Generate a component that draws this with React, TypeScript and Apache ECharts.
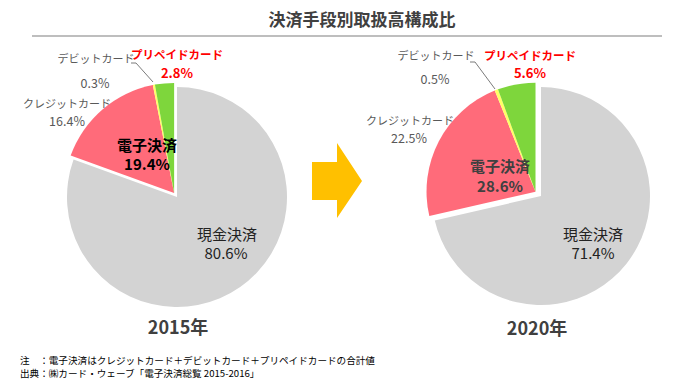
import React, { useEffect, useRef } from "react";
import * as echarts from "echarts";

const title = "決済手段別取扱高構成比";
const categories = ["現金決済", "クレジットカード", "デビットカード", "プリペイドカード"];
const years = ["2015年", "2020年"];
const values2015 = [80.6, 16.4, 0.3, 2.8];
const values2020 = [71.4, 22.5, 0.5, 5.6];
const electronicLabel = "電子決済";
const electronicTotals = [19.4, 28.6];
const notes = [
  "注　：電子決済はクレジットカード＋デビットカード＋プリペイドカードの合計値",
  "出典：㈱カード・ウェーブ「電子決済総覧 2015-2016」",
];

const COLORS = ["#D3D3D3", "#FF6B7A", "#FFFF66", "#7ED63C"];
const FONT = '"Noto Sans CJK JP", "Noto Sans", sans-serif';
const CLEAR = "rgba(0,0,0,0)";

function pct(v: number) {
  return v.toFixed(1) + "%";
}

function pieSeries(values: number[], center: number[], r: number, offset: number) {
  const total = values.reduce((a, b) => a + b, 0);
  const elec = values.slice(1).reduce((a, b) => a + b, 0);
  const mid = (elec / total) * Math.PI; // half of electronic angle, counterclockwise from top
  const dx = -offset * Math.sin(mid);
  const dy = -offset * Math.cos(mid);
  const base = {
    type: "pie" as const,
    radius: r,
    startAngle: 90,
    clockwise: true,
    silent: true,
    z: 1,
    avoidLabelOverlap: false,
    label: { show: false },
    labelLine: { show: false },
    emphasis: { disabled: true },
  };
  return [
    {
      ...base,
      center,
      data: values.map((v, i) => ({
        name: categories[i],
        value: v,
        itemStyle: { color: i === 0 ? COLORS[0] : CLEAR },
      })),
    },
    {
      ...base,
      center: [center[0] + dx, center[1] + dy],
      data: values.map((v, i) => ({
        name: categories[i],
        value: v,
        itemStyle: { color: i === 0 ? CLEAR : COLORS[i] },
      })),
    },
  ];
}

function txt(
  text: string,
  x: number,
  y: number,
  size: number,
  fill: string,
  bold = false,
  align = "center"
) {
  return {
    type: "text",
    x,
    y,
    z: 100,
    silent: true,
    style: {
      text,
      fill,
      font: `${bold ? "bold " : ""}${size}px ${FONT}`,
      textAlign: align,
      textVerticalAlign: "middle",
      align,
      verticalAlign: "middle",
    },
  };
}

export default function App() {
  const ref = useRef<HTMLDivElement>(null);
  useEffect(() => {
    if (!ref.current) return;
    const chart = echarts.init(ref.current, undefined, { renderer: "svg" });
    const graphic: any[] = [
      txt(title, 362, 18, 17, "#404040", true),
      {
        type: "line",
        z: 100,
        silent: true,
        shape: { x1: 32, y1: 36, x2: 662, y2: 36 },
        style: { stroke: "#7F7F7F", lineWidth: 1.2 },
      },
      // arrow
      {
        type: "polygon",
        z: 100,
        silent: true,
        shape: {
          points: [
            [312, 162], [337, 162], [337, 143], [362, 181], [337, 218], [337, 200], [312, 200],
          ],
        },
        style: { fill: "#FFC000" },
      },
      // 2015 labels
      txt(categories[2], 96, 58, 11, "#595959"),
      txt(pct(values2015[2]), 95, 82, 12.5, "#595959"),
      txt(categories[3], 177, 54, 11.5, "#FF0000", true),
      txt(pct(values2015[3]), 177, 72, 13, "#FF0000", true),
      txt(categories[1], 67, 103, 11, "#595959"),
      txt(pct(values2015[1]), 67, 120, 12.5, "#595959"),
      txt(electronicLabel, 147, 144.5, 15, "#000000", true),
      txt(pct(electronicTotals[0]), 147, 163.5, 15, "#000000", true),
      txt(categories[0], 227, 233, 15, "#222222"),
      txt(pct(values2015[0]), 226, 252, 15, "#222222"),
      {
        type: "polyline",
        z: 100,
        silent: true,
        shape: { points: [[131, 63], [136, 63], [153, 82]] },
        style: { stroke: "#595959", lineWidth: 0.8, fill: null },
      },
      // 2020 labels
      txt(categories[2], 436, 55, 11, "#595959"),
      txt(pct(values2020[2]), 435, 78, 12.5, "#595959"),
      txt(categories[3], 530, 55, 11.5, "#FF0000", true),
      txt(pct(values2020[3]), 530, 72, 13, "#FF0000", true),
      txt(categories[1], 410, 120, 11, "#595959"),
      txt(pct(values2020[1]), 409, 137, 12.5, "#595959"),
      txt(electronicLabel, 500, 165, 15, "#404040", true),
      txt(pct(electronicTotals[1]), 500, 185, 15, "#404040", true),
      txt(categories[0], 593, 233, 15, "#222222"),
      txt(pct(values2020[0]), 593, 252, 15, "#222222"),
      {
        type: "polyline",
        z: 100,
        silent: true,
        shape: { points: [[470, 62], [475, 62], [495, 89]] },
        style: { stroke: "#595959", lineWidth: 0.8, fill: null },
      },
      // years
      txt(years[0], 178, 326, 18, "#404040", true),
      txt(years[1], 537, 327, 18, "#404040", true),
      // notes
      txt(notes[0], 20, 359.5, 9.6, "#000000", false, "left"),
      txt(notes[1], 20, 372.5, 9.6, "#000000", false, "left"),
    ];
    chart.setOption({
      animation: false,
      backgroundColor: "#FFFFFF",
      series: [
        ...pieSeries(values2015, [177, 197], 110, 5),
        ...pieSeries(values2020, [541, 196], 109, 7),
      ],
      graphic,
    });
    return () => chart.dispose();
  }, []);
  return (
    <div
      ref={ref}
      style={{ position: "fixed", left: 0, top: 0, width: 682, height: 390 }}
    />
  );
}
